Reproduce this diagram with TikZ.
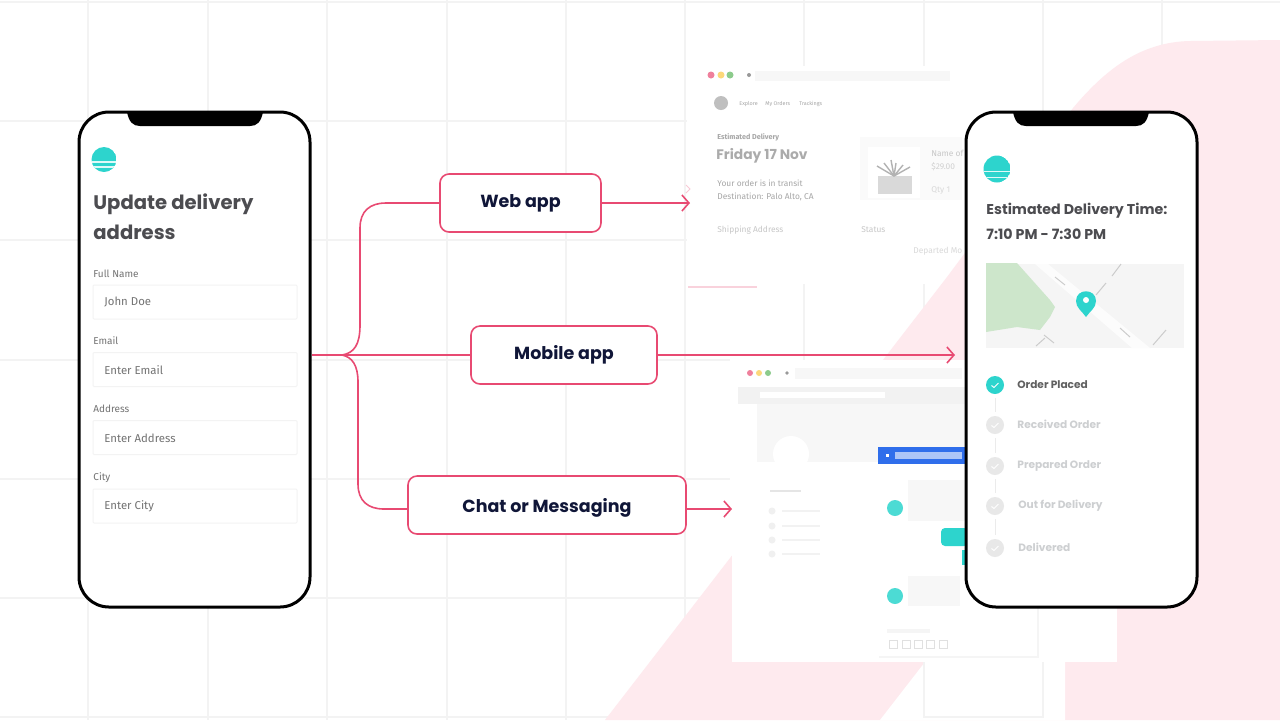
\documentclass[tikz,border=0pt]{standalone}
\usepackage{fontspec}
\setmainfont{Poppins}
\newfontfamily\uifont{Fira Sans}
\definecolor{linkpink}{RGB}{232, 74, 114}
\definecolor{bgpink}{RGB}{254, 234, 238}
\definecolor{gridgray}{RGB}{243, 243, 243}
\definecolor{inknavy}{RGB}{16, 22, 56}
\definecolor{inkgray}{RGB}{76, 76, 80}
\definecolor{tealmark}{RGB}{45, 212, 205}
\definecolor{fadegray}{RGB}{205, 207, 209}
\definecolor{chatblue}{RGB}{47, 110, 235}
\definecolor{mapgreen}{RGB}{205, 230, 203}
\usetikzlibrary{arrows.meta, positioning, calc}
\newcommand{\sunlogo}[3]{%
  \begin{scope}
    \clip (#1,#2) circle[radius=#3];
    \fill[tealmark] (#1,#2) circle[radius=#3];
    \draw[white!85!tealmark, line width=0.6pt] (#1-#3,#2+0.2*#3) -- (#1+#3,#2+0.2*#3);
    \draw[white!85!tealmark, line width=0.6pt] (#1-#3,#2+0.6*#3) -- (#1+#3,#2+0.6*#3);
  \end{scope}}
\tikzset{
  gridline/.style={draw=gridgray, line width=0.8pt},
  phonebody/.style={draw=black, fill=white, line width=1.5pt, rounded corners=15pt,
                    minimum width=115.5pt, minimum height=247.5pt},
  appbox/.style={draw=linkpink, fill=white, line width=0.8pt, rounded corners=4.5pt,
                 minimum height=29pt, text=inknavy, font=\fontsize{8.75}{11}\selectfont\bfseries},
  linkline/.style={draw=linkpink, line width=0.8pt},
  linkarrow/.style={linkline, -{Straight Barb[length=3.5pt, width=8pt]}},
  fieldbox/.style={draw=gridgray, fill=white, line width=0.5pt, minimum width=102pt,
                   minimum height=17pt, rounded corners=0.5pt},
  formlabel/.style={font=\uifont\fontsize{5}{6}\selectfont, text=black!55, anchor=west, inner sep=0pt},
  formvalue/.style={font=\uifont\fontsize{5.7}{7}\selectfont, text=black!55, anchor=west, inner sep=0pt},
  headline/.style={font=\fontsize{9.8}{12}\selectfont\bfseries, text=inkgray, anchor=base west, inner sep=0pt},
  etaline/.style={font=\fontsize{7.1}{9}\selectfont\bfseries, text=inkgray, anchor=base west, inner sep=0pt},
  stepdot/.style={circle, fill=black!9, minimum size=9pt, inner sep=0pt},
  steplabel/.style={font=\fontsize{5.3}{7}\selectfont\bfseries, text=fadegray, anchor=west, inner sep=0pt},
  faintbar/.style={fill=black!5, draw=none},
  webtext/.style={font=\uifont\fontsize{4.2}{5}\selectfont, text=black!35, anchor=west, inner sep=0pt},
}
\begin{document}
\begin{tikzpicture}[x=0.5pt, y=-0.5pt]
  \useasboundingbox (0,0) rectangle (1280,720);
  \fill[white] (0,0) rectangle (1280,720);
  % grid
  \foreach \gx in {88,208,327,447,566,685,804,924,1043,1162}
    \draw[gridline] (\gx,0) -- (\gx,720);
  \foreach \gy in {2,717}
    \draw[gridline] (0,\gy) -- (1280,\gy);
  \foreach \gy in {121,240,360,479,598}
    \draw[gridline] (0,\gy) -- (730,\gy);
  \fill[white] (686,599) rectangle (730,720);
  % pink backdrop
  \fill[bgpink] (605,720) -- (947,277) -- (1073,108)
    .. controls (1105,70) and (1140,42) .. (1190,41) -- (1280,40) -- (1280,720) -- cycle;
  \fill[white] (880,720) -- (925,662) -- (1065,662) -- (1065,720) -- cycle;
  \draw[gridline] (924,662) -- (924,717) -- (1043,717) -- (1043,662);
  % web mock
  \fill[white] (687,66) rectangle (962,255);
  \fill[white] (687,255) rectangle (930,284);
  \draw[draw=linkpink!25, line width=0.6pt] (688,287) -- (757,287);
  \draw[draw=linkpink!30, line width=0.4pt] (686,185) -- (690,189) -- (686,193);
  \fill[linkpink!70] (711,75) circle[radius=3.5];
  \fill[yellow!45!orange!50] (721,75) circle[radius=3.5];
  \fill[green!55!black!45] (730,75) circle[radius=3.5];
  \fill[black!40] (749,75) circle[radius=2];
  \fill[black!3] (755,71) rectangle (950,81);
  \fill[black!25] (721,103) circle[radius=7];
  \node[webtext, font=\uifont\fontsize{2.7}{3}\selectfont] (navone) at (739,104) {Explore};
  \node[webtext, font=\uifont\fontsize{2.7}{3}\selectfont] (navtwo) at (765,104) {My Orders};
  \node[webtext, font=\uifont\fontsize{2.7}{3}\selectfont] (navthree) at (799,104) {Trackings};
  \node[webtext, font=\uifont\fontsize{3.6}{4}\selectfont\bfseries] (estlabel) at (717,137) {Estimated Delivery};
  \node[webtext, font=\fontsize{6.9}{8}\selectfont\bfseries, text=black!33] (friday) at (716,156) {Friday 17 Nov};
  \node[webtext] (transit) at (717,183) {Your order is in transit};
  \node[webtext] (palo) at (717,197) {Destination: Palo Alto, CA};
  \node[webtext, text=black!22] (shipaddr) at (717,230) {Shipping Address};
  \node[webtext, text=black!22] (statustext) at (861,230) {Status};
  \node[webtext, text=black!15] (departed) at (913,251) {Departed Mo};
  \fill[black!2] (860,137) rectangle (962,200);
  \fill[white] (868,147) rectangle (920,198);
  \fill[black!15] (878,176) rectangle (912,194);
  \foreach \lx/\ly in {877/166,884/163,891/160,896/163,903/165,910/167}
    \draw[black!30, line width=0.7pt] (894,176) -- (\lx,\ly);
  \node[webtext, text=black!22] (plantname) at (931,153) {Name of};
  \node[webtext, text=black!18] (plantprice) at (931,167) {\$29.00};
  \node[webtext, text=black!15] (plantqty) at (931,190) {Qty 1};
  % chat mock
  \fill[white] (732,360) rectangle (1117,662);
  \fill[linkpink!70] (750,373) circle[radius=3];
  \fill[yellow!45!orange!50] (759,373) circle[radius=3];
  \fill[green!55!black!45] (768,373) circle[radius=3];
  \fill[black!40] (787,373) circle[radius=1.8];
  \fill[black!3] (795,368) rectangle (962,379);
  \fill[black!5] (738,387) rectangle (965,404);
  \fill[white] (760,392) rectangle (885,398);
  \fill[black!3] (757,404) rectangle (965,462);
  \fill[white] (791,454) circle[radius=18];
  \fill[white] (738,462) rectangle (878,600);
  \fill[black!10] (770,490) rectangle (801,492);
  \foreach \iy in {511,526,540,554} {
    \fill[black!6] (772,\iy) circle[radius=3.5];
    \fill[faintbar] (782,\iy-1) rectangle (820,\iy+1);
  }
  % chat panel
  \fill[black!4] (879,449) rectangle (1039,658);
  \fill[white] (878,447) rectangle (1037,656);
  \fill[chatblue] (878,447) rectangle (968,464);
  \fill[white] (886,454) rectangle (889,457);
  \fill[white!60!chatblue] (895,452) rectangle (962,459);
  \fill[black!3] (908,480) rectangle (968,521);
  \fill[black!3] (908,576) rectangle (960,606);
  \fill[tealmark, rounded corners=2pt] (941,528) rectangle (968,546);
  \fill[tealmark] (962,550) rectangle (968,565);
  \fill[tealmark!85] (895,508) circle[radius=8];
  \fill[tealmark!85] (895,596) circle[radius=8];
  \fill[black!4] (887,629) rectangle (930,633);
  \foreach \ix in {893,906,918,930,943}
    \draw[black!12, line width=0.4pt] (\ix-4,640) rectangle (\ix+4,648);
  % connectors
  \coordinate (hub) at (342,355);
  \coordinate (webtip) at (690,203);
  \coordinate (mobiletip) at (955,355);
  \coordinate (chattip) at (732,509);
  % app boxes
  \node[appbox, minimum width=80.5pt] (webapp) at (520.5,203) {Web app};
  \node[appbox, minimum width=93pt] (mobileapp) at (564,355) {Mobile app};
  \node[appbox, minimum width=139pt, text height=10pt] (chatapp) at (547,505) {Chat or Messaging};
  % phones
  \node[phonebody] (phoneleft) at (194.5,359.5) {};
  \node[phonebody] (phoneright) at (1081.5,359.5) {};
  \foreach \nx in {127,1013} {
    \begin{scope}[shift={(\nx,0)}]
      \fill[black] (0,112) .. controls (2,122) and (6,126) .. (13,126) -- (123,126)
        .. controls (130,126) and (134,122) .. (136,112) -- cycle;
    \end{scope}
  }
  \draw[linkline] (phoneleft.east |- hub) -- (mobileapp.west);
  \draw[linkline] (hub) .. controls (354,353) and (360,345) .. (360,325) -- (360,228)
    .. controls (360,211) and (370,203) .. (386,203) -- (webapp.west |- webtip);
  \draw[linkline] (hub) .. controls (352,357) and (358,365) .. (358,382) -- (358,484)
    .. controls (358,501) and (368,509) .. (384,509) -- (chatapp.west |- chattip);
  \draw[linkarrow] (webapp.east |- webtip) -- (webtip);
  \draw[linkarrow] (mobileapp.east) -- (mobiletip);
  \draw[linkarrow] (chatapp.east |- chattip) -- (chattip);
  % left phone
  \sunlogo{104}{159.5}{12.5}
  \node[headline] (titleone) at (93,209.5) {Update delivery};
  \node[headline] (titletwo) at (93,239) {address};
  \foreach \fname/\fvalue/\fy in {Full Name/John Doe/302,Email/Enter Email/369.5,Address/Enter Address/437.5,City/Enter City/506} {
    \node[fieldbox] (field\fy) at (195,\fy) {};
    \node[formlabel] (label\fy) at (93,\fy-28.5) {\fname};
    \node[formvalue] (value\fy) at (104,\fy+0.5) {\fvalue};
  }
  % right phone
  \sunlogo{997}{169}{13.5}
  \node[etaline] (etaone) at (986,214) {Estimated Delivery Time:};
  \node[etaline] (etatwo) at (986,239) {7:10 PM - 7:30 PM};
  \fill[black!4] (986,264) rectangle (1184,348);
  \fill[black!1] (1035,264) -- (1048,264) -- (1150,348) -- (1132,348) -- cycle;
  \fill[mapgreen] (986,263) -- (1017,263) -- (1050,300) -- (1055,307) -- (1050,317)
    -- (1040,330) -- (1017,327) -- (986,332) -- cycle;
  \foreach \ax/\ay/\bx/\by in {1055/277/1065/285,1096/295/1106/283,1112/276/1121/264,1120/328/1130/337,1153/345/1166/330,1036/346/1045/338,1044/335/1054/343}
    \draw[black!20, line width=0.5pt] (\ax,\ay) -- (\bx,\by);
  \fill[tealmark] (1086,317) .. controls (1082,311) and (1076,308) .. (1076,301)
    .. controls (1076,288) and (1096,288) .. (1096,301) .. controls (1096,308) and (1090,311) .. (1086,317) -- cycle;
  \fill[white] (1086,300) circle[radius=3];
  \node[stepdot, fill=tealmark] (orderdot) at (995,385) {};
  \node[stepdot] (receiveddot) at (995,425) {};
  \node[stepdot] (prepareddot) at (995,466) {};
  \node[stepdot] (outdot) at (995,506) {};
  \node[stepdot] (delivereddot) at (995,548) {};
  \foreach \sdot in {orderdot,receiveddot,prepareddot,outdot,delivereddot}
    \draw[white, line width=0.5pt] ([shift={(-3.5,0.5)}]\sdot.center) -- ([shift={(-1,2.5)}]\sdot.center) -- ([shift={(3.5,-2)}]\sdot.center);
  \draw[black!8, line width=0.5pt, shorten >=2pt, shorten <=2pt] (orderdot) -- (receiveddot);
  \draw[black!8, line width=0.5pt, shorten >=2pt, shorten <=2pt] (receiveddot) -- (prepareddot);
  \draw[black!8, line width=0.5pt, shorten >=2pt, shorten <=2pt] (prepareddot) -- (outdot);
  \draw[black!8, line width=0.5pt, shorten >=2pt, shorten <=2pt] (outdot) -- (delivereddot);
  \node[steplabel, text=black!62] (ordertext) at (1017,385) {Order Placed};
  \node[steplabel] (receivedtext) at (1017,424.5) {Received Order};
  \node[steplabel] (preparedtext) at (1017,465.5) {Prepared Order};
  \node[steplabel] (outtext) at (1018,506) {Out for Delivery};
  \node[steplabel] (deliveredtext) at (1018,547) {Delivered};
\end{tikzpicture}
\end{document}
